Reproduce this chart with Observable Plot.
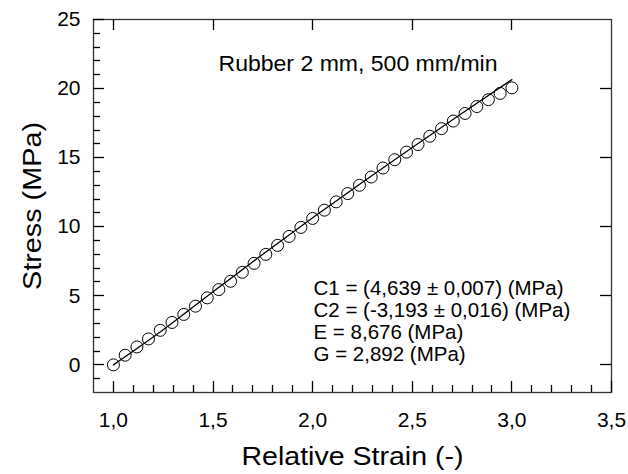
<!DOCTYPE html>
<html>
<head>
<meta charset="utf-8">
<script src="https://cdn.jsdelivr.net/npm/d3@7"></script>
<script src="https://cdn.jsdelivr.net/npm/@observablehq/plot@0.6"></script>
<style>
  html, body { margin: 0; padding: 0; background: #fff; }
</style>
</head>
<body>
<div id="chart"></div>
<script>
// Measured data (circles)
const strain = [1.000, 1.059, 1.118, 1.176, 1.235, 1.294, 1.353, 1.412, 1.471, 1.529,
                1.588, 1.647, 1.706, 1.765, 1.824, 1.882, 1.941, 2.000, 2.059, 2.118,
                2.176, 2.235, 2.294, 2.353, 2.412, 2.471, 2.529, 2.588, 2.647, 2.706,
                2.765, 2.824, 2.882, 2.941, 3.000];
const stress = [0.00, 0.70, 1.30, 1.88, 2.50, 3.07, 3.65, 4.25, 4.85, 5.45,
                6.05, 6.70, 7.35, 8.00, 8.65, 9.30, 9.95, 10.60, 11.20, 11.80,
                12.40, 13.00, 13.60, 14.25, 14.85, 15.40, 15.95, 16.55, 17.10, 17.65,
                18.20, 18.70, 19.20, 19.65, 20.05];

// Fitted curve (line)
const fitStrain = [1.00, 1.25, 1.50, 1.75, 2.00, 2.25, 2.50, 2.75, 3.00];
const fitStress = [0.00, 2.54, 5.30, 8.01, 10.65, 13.22, 15.73, 18.21, 20.65];

// Axis ticks
const xMajorTicks = [1.0, 1.5, 2.0, 2.5, 3.0, 3.5];
const xTopTicks = [1.0, 1.5, 2.0, 2.5, 3.0];
const xMinorTicks = [1.1, 1.2, 1.3, 1.4, 1.6, 1.7, 1.8, 1.9, 2.1, 2.2, 2.3, 2.4,
                     2.6, 2.7, 2.8, 2.9, 3.1, 3.2, 3.3, 3.4];
const yMajorTicks = [0, 5, 10, 15, 20, 25];
const yRightTicks = [0, 5, 10, 15, 20];
const yMinorTicks = [-1, 1, 2, 3, 4, 6, 7, 8, 9, 11, 12, 13, 14, 16, 17, 18, 19, 21, 22, 23, 24];

// Texts
const xTitle = "Relative Strain (-)";
const yTitle = "Stress (MPa)";
const noteTop = "Rubber 2 mm, 500 mm/min";
const noteLines = ["C1 = (4,639 ± 0,007) (MPa)", "C2 = (-3,193 ± 0,016) (MPa)", "E = 8,676 (MPa)", "G = 2,892 (MPa)"];

const points = strain.map((x, i) => ({x, y: stress[i]}));
const fit = fitStrain.map((x, i) => ({x, y: fitStress[i]}));

const W = 628, H = 474;
const mL = 93, mR = 17, mT = 19, mB = 82;
const pw = W - mL - mR, ph = H - mT - mB;
const majorLen = 11, minorLen = 7;

const fmt = d => d.toFixed(1).replace(".", ",");

const chart = Plot.plot({
  width: W,
  height: H,
  marginLeft: mL,
  marginRight: mR,
  marginTop: mT,
  marginBottom: mB,
  style: {fontFamily: "'Liberation Sans', Arial, sans-serif", fontSize: "21px", color: "#000", background: "#fff"},
  x: {domain: [0.9, 3.5], ticks: xMajorTicks, tickFormat: fmt, tickSize: 0, tickPadding: 20, label: null},
  y: {domain: [-2, 25], ticks: yMajorTicks, tickSize: 0, tickPadding: 13, label: null},
  marks: [
    // fitted line
    Plot.line(fit, {x: "x", y: "y", curve: "monotone-x", stroke: "#000", strokeWidth: 1.3}),
    // measured points
    Plot.dot(points, {x: "x", y: "y", r: 6, stroke: "#000", strokeWidth: 1, fill: "none"}),
    // annotations
    Plot.text([noteTop], {frameAnchor: "top-left", dx: 125, dy: 36, textAnchor: "start", lineAnchor: "top", fontSize: 22, fill: "#000"}),
    Plot.text([noteLines.join("\n")], {frameAnchor: "top-left", dx: 220, dy: 259.5, textAnchor: "start", lineAnchor: "top", lineHeight: 1.08, fontSize: 20.5, fill: "#000"}),
    // axis titles
    Plot.text([xTitle], {frameAnchor: "bottom", dy: 55, lineAnchor: "top", textAnchor: "middle", fontSize: 25, fill: "#000"}),
    Plot.text([yTitle], {frameAnchor: "left", dx: -61, rotate: -90, lineAnchor: "middle", textAnchor: "middle", fontSize: 25, fill: "#000"}),
    Plot.frame({stroke: "#333", strokeWidth: 1.3})
  ]
});

// Stretch the titles slightly, as in the reference
d3.select(chart).selectAll("text").each(function () {
  const t = this.textContent;
  if (t === xTitle) d3.select(this).attr("textLength", 222).attr("lengthAdjust", "spacingAndGlyphs");
  if (t === yTitle) d3.select(this).attr("textLength", 168).attr("lengthAdjust", "spacingAndGlyphs");
  if (t === noteTop) d3.select(this).attr("textLength", 279).attr("lengthAdjust", "spacingAndGlyphs");
});

// Inward ticks on all four sides, placed through Plot's own scales
const sx = chart.scale("x"), sy = chart.scale("y");
const x0 = sx.apply(sx.domain[0]), x1 = sx.apply(sx.domain[1]);
const y0 = sy.apply(sy.domain[0]), y1 = sy.apply(sy.domain[1]);
const tg = d3.select(chart).append("g").attr("stroke", "#000").attr("stroke-width", 1.3).attr("fill", "none");
const addX = (vals, yBase, len) => vals.forEach(v => {
  const px = Math.round(sx.apply(v)) + 0.5;
  tg.append("line").attr("x1", px).attr("x2", px).attr("y1", yBase).attr("y2", yBase + len);
});
const addY = (vals, xBase, len) => vals.forEach(v => {
  const py = Math.round(sy.apply(v)) + 0.5;
  tg.append("line").attr("y1", py).attr("y2", py).attr("x1", xBase).attr("x2", xBase + len);
});
addX(xMajorTicks, y0, -majorLen);
addX(xMinorTicks, y0, -minorLen);
addX(xTopTicks, y1, majorLen);
addY(yMajorTicks, x0, majorLen);
addY(yMinorTicks, x0, minorLen);
addY(yRightTicks, x1, -majorLen);

document.getElementById("chart").appendChild(chart);
</script>
</body>
</html>
